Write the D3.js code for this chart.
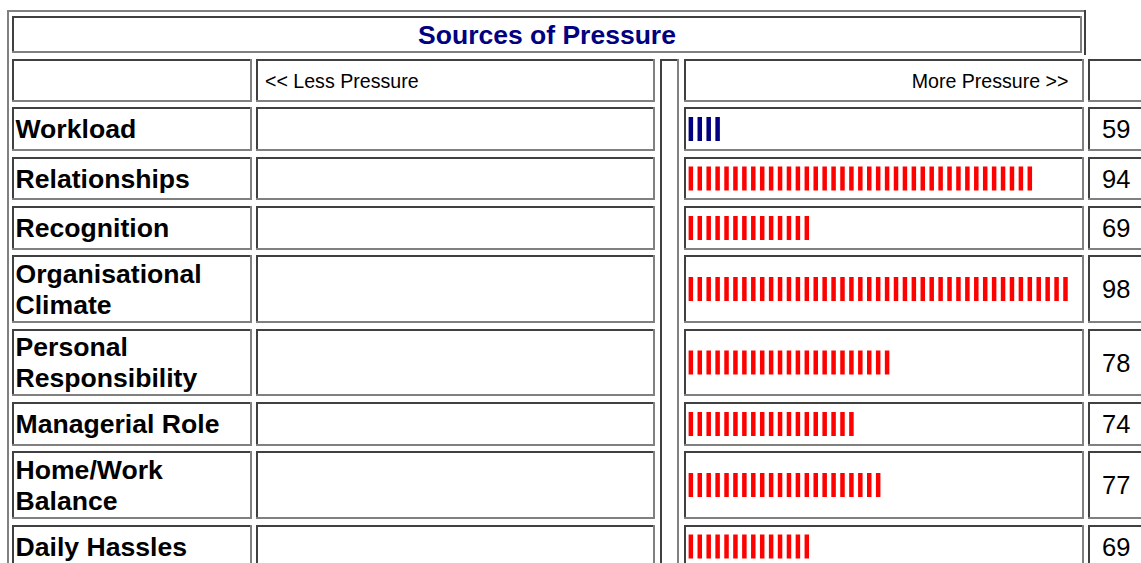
<!DOCTYPE html>
<html>
<head>
<meta charset="utf-8">
<script src="https://cdn.jsdelivr.net/npm/d3@7"></script>
<style>
  body { margin: 0; background: #fff; }
  text { font-family: "Liberation Sans", Arial, Helvetica, sans-serif; }
</style>
</head>
<body>
<div id="chart"></div>
<script>
// Text and values of the chart
const chartTitle = "Sources of Pressure";
const lowLabel = "<< Less Pressure";
const highLabel = "More Pressure >>";
const categories = [
  "Workload",
  "Relationships",
  "Recognition",
  "Organisational Climate",
  "Personal Responsibility",
  "Managerial Role",
  "Home/Work Balance",
  "Daily Hassles"
];
const scores = [59, 94, 69, 98, 78, 74, 77, 69];

// Dimensions
const width = 1141, height = 563;
const dark = "#404040", light = "#808080";
const border = 2;
const normalLimit = 60; // scores below this get a navy bar

const svg = d3.select("#chart")
  .append("svg")
  .attr("width", width)
  .attr("height", height);

svg.append("rect").attr("width", width).attr("height", height).attr("fill", "#fff");

// Column edges [left, right]
const cols = [[12, 252], [256, 655], [660, 679], [684, 1084], [1088, 1170]];

// One table cell with the old 3D border (inset: dark top/left, light bottom/right)
function cell(x0, x1, y0, y1, inset = true) {
  const tl = inset ? dark : light, br = inset ? light : dark;
  const g = svg.append("g").attr("class", "cell");
  g.append("rect").attr("x", x0).attr("y", y0).attr("width", x1 - x0).attr("height", border).attr("fill", tl);
  g.append("rect").attr("x", x0).attr("y", y0).attr("width", border).attr("height", y1 - y0).attr("fill", tl);
  g.append("rect").attr("x", x0).attr("y", y1 - border).attr("width", x1 - x0).attr("height", border).attr("fill", br);
  g.append("rect").attr("x", x1 - border).attr("y", y0).attr("width", border).attr("height", y1 - y0).attr("fill", br);
}

// Outer table frame
svg.append("rect").attr("x", 7).attr("y", 10).attr("width", 1079).attr("height", border).attr("fill", light);
svg.append("rect").attr("x", 7).attr("y", 10).attr("width", border).attr("height", height).attr("fill", light);
svg.append("rect").attr("x", 1084).attr("y", 10).attr("width", border).attr("height", 45).attr("fill", dark);

// Title row
cell(12, 1082, 16, 53);
svg.append("text")
  .attr("x", 547).attr("y", 44)
  .attr("text-anchor", "middle")
  .attr("font-size", "26.5px").attr("font-weight", "bold")
  .attr("fill", "#000080")
  .text(chartTitle);

// Header row
const headTop = 59, headBottom = 102;
[0, 1, 3, 4].forEach(i => cell(cols[i][0], cols[i][1], headTop, headBottom));
svg.append("text")
  .attr("x", 265).attr("y", 87.5)
  .attr("font-size", "19.6px")
  .text(lowLabel);
svg.append("text")
  .attr("x", 1068.5).attr("y", 87.5)
  .attr("text-anchor", "end")
  .attr("font-size", "19.6px")
  .text(highLabel);

// Spacer column spanning all rows
cell(cols[2][0], cols[2][1], headTop, height + 40);

// Wrap labels to the first column
const labelSize = 26.6, labelMax = 232;
const measurer = svg.append("text").attr("font-size", labelSize + "px").attr("font-weight", "bold");
function wrap(label) {
  const words = label.split(" ");
  const lines = [];
  let line = words[0];
  for (let i = 1; i < words.length; i++) {
    const test = line + " " + words[i];
    measurer.text(test);
    if (measurer.node().getComputedTextLength() > labelMax) {
      lines.push(line);
      line = words[i];
    } else {
      line = test;
    }
  }
  lines.push(line);
  return lines;
}
const rows = categories.map((c, i) => ({ name: c, score: scores[i], lines: wrap(c) }));
measurer.remove();

// Row positions
let yPos = 107.3;
rows.forEach(r => {
  const pitch = r.lines.length > 1 ? 73.33 : 49.33;
  r.top = Math.round(yPos);
  r.bottom = Math.round(yPos + pitch - 5.7);
  r.mid = (r.top + r.bottom) / 2;
  yPos += pitch;
});

// Stripe scale: one stripe per point above 55
const x = d3.scaleLinear().domain([55, 100]).range([688.6, 688.6 + 45 * 8.92]);
const stripeW = 4.5, stripeH = 24;

const rowG = svg.selectAll("g.row")
  .data(rows)
  .join("g")
  .attr("class", "row");

rowG.each(function (d, i) {
  const last = i === rows.length - 1;
  const bottom = last ? height + 40 : d.bottom;
  [0, 1, 3, 4].forEach(c => cell(cols[c][0], cols[c][1], d.top, bottom));
});

const lineH = 31, capHalf = 9.2;
const labels = svg.append("g").selectAll("text.label")
  .data(rows)
  .join("text")
  .attr("class", "label")
  .attr("font-size", labelSize + "px")
  .attr("font-weight", "bold")
  .attr("fill", "#000");

labels.selectAll("tspan")
  .data(d => d.lines.map((l, k) => ({ l, k, n: d.lines.length, mid: d.mid })))
  .join("tspan")
  .attr("x", 15.5)
  .attr("y", t => t.mid - (t.n - 1) * lineH / 2 + t.k * lineH + capHalf)
  .text(t => t.l);

// Striped bars
svg.append("g").selectAll("g.bar")
  .data(rows)
  .join("g")
  .attr("class", "bar")
  .attr("fill", d => d.score < normalLimit ? "#000080" : "#ff0000")
  .selectAll("rect")
  .data(d => d3.range(55, d.score).map(k => ({ k, mid: d.mid })))
  .join("rect")
  .attr("x", s => x(s.k))
  .attr("y", s => s.mid - stripeH / 2)
  .attr("width", stripeW)
  .attr("height", stripeH);

// Score values
svg.append("g").selectAll("text.score")
  .data(rows)
  .join("text")
  .attr("class", "score")
  .attr("x", 1102)
  .attr("y", d => d.mid + capHalf)
  .attr("font-size", "25.5px")
  .text(d => d.score);
</script>
</body>
</html>
